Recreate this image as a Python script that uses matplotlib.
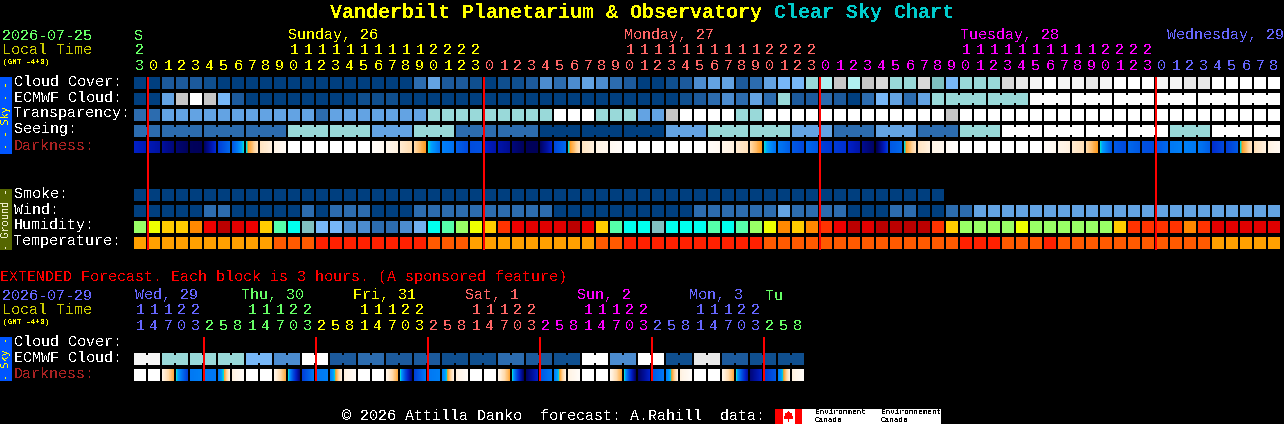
import matplotlib
matplotlib.use("Agg")
import matplotlib.pyplot as plt
import numpy as np
from matplotlib.colors import LinearSegmentedColormap
from matplotlib.patches import Rectangle, Polygon

plt.rcParams['text.antialiased'] = False
MONO = 'Liberation Mono'
SIDE = 'DejaVu Sans Mono'

W, H = 1284, 424
X0, STEP, CELL = 134, 14, 12

SKY = ['#003F7F', '#0F4F8F', '#1C5A9C', '#2C6CAF', '#4C8CCF', '#63A3E3', '#77B7F7', '#7FC0C0',
       '#99D9D9', '#B0F0F0', '#C6C6C6', '#D8D8D8', '#E8E8E8', '#F5F5F5', '#FFFFFF']

cloud_cover = [0, 0, 2, 2, 2, 1, 0, 0, 0, 0, 0, 0, 0, 0, 0, 0, 0, 0, 0, 0, 3,
               5, 2, 2, 1, 0, 1, 1, 2, 4, 3, 4, 5, 4, 3, 2, 0, 0, 1, 2, 4, 5, 5, 2, 3, 5, 6, 6, 8, 9, 10, 9,
               10, 11, 8, 8, 11, 7, 6, 8, 8, 8, 11, 12, 13, 14, 13, 13, 12, 13, 14, 14, 14, 13, 13, 12, 12,
               14, 14, 14, 14, 14]
ecmwf_cloud = [0, 0, 5, 10, 14, 10, 6, 2, 0, 0, 0, 0, 0, 0, 0, 0, 1, 1, 1, 0, 0,
               0, 0, 0, 0, 0, 0, 0, 0, 0, 0, 0, 0, 0, 0, 0, 0, 0, 0, 1, 2, 3, 4, 3, 5, 3, 8, 2, 2, 3, 2, 0,
               3, 6, 5, 3, 5, 8, 8, 8, 8, 8, 8, 8, 14, 14, 14, 14, 14, 14, 14, 14, 14, 14, 14, 14,
               14, 14, 14, 14, 14, 14]
transparency = [3, 3, 5, 5, 5, 5, 5, 5, 5, 5, 5, 5, 5, 3, 5, 5, 5, 5, 5, 5, 5,
                8, 8, 8, 8, 8, 8, 8, 8, 8, 14, 14, 14, 8, 8, 8, 5, 5, 10, 14, 14, 14, 14, 8, 8, 14, 14, 14, 14, 14, 14, 14,
                14, 14, 14, 14, 14, 14, 10, 14, 14, 14, 14, 14, 14, 14, 14, 14, 14, 14, 14, 14, 14, 14, 14, 14,
                14, 14, 14, 14, 14, 14]
seeing = [3, 3, 3, 3, 3, 3, 3, 3, 3, 3, 3, 8, 8, 8, 8, 8, 8, 5, 5, 5, 8,
          8, 8, 3, 3, 3, 3, 3, 3, 0, 0, 0, 0, 0, 0, 0, 0, 0, 5, 5, 5, 8, 8, 8, 8, 8, 8, 5, 5, 5, 3, 3,
          3, 5, 5, 5, 3, 3, 3, 8, 8, 8, 14, 14, 14, 14, 14, 14, 14, 14, 14, 14, 14, 14, 8, 8, 8,
          14, 14, 14, 14, 14]
smoke = [0] * 58
wind = [0, 0, 0, 0, 0, 3, 3, 0, 0, 0, 0, 0, 3, 0, 3, 3, 3, 0, 0, 0, 3,
        3, 3, 3, 3, 3, 3, 3, 3, 3, 0, 0, 0, 0, 0, 0, 0, 0, 0, 0, 3, 3, 3, 3, 3, 3, 5, 3, 3, 3, 3, 0,
        0, 0, 3, 3, 0, 0, 3, 3, 5, 5, 5, 5, 5, 5, 5, 5, 5, 5, 5, 5, 5, 5, 5, 5,
        5, 5, 5, 5, 5, 5]

HUM = {'g': '#99FF66', 'y': '#EEFF00', 'a': '#FFCC00', 'o': '#FF8800', 'f': '#FF3300', 'r': '#EE0000',
       'R': '#E00000', 'd': '#BB0000', 'm': '#55FFAA', 'c': '#00FFEE', 't': '#80C0C0', 'L': '#77B7F7',
       'M': '#4C8CCF', 'B': '#2C6CAF', 'S': '#70B0F0'}
humidity = list('gyaaordRramctLLMMBBMS' + 'cmgyafrRRRdramcctcccmcmgyoaofrd' + 'RddddfaggggyggggggaffffofRRRRR')

TEMP = ['#FFA000', '#FF5A00', '#FF2000']
temperature = [0] * 10 + [1] * 3 + [2] * 8 + [1] * 3 + [0] * 9 + [1] * 2 + [2] * 10 + [1] * 14 + \
              [2] * 3 + [1] * 3 + [2] * 1 + [1] * 11 + [0] * 5

# darkness: value at the start and at the end of each cell (0 = deep night, 1 = daylight)
dark_cmap = LinearSegmentedColormap.from_list('dark', [
    (0.00, '#000050'), (0.15, '#000C90'), (0.30, '#0020C8'), (0.45, '#0048DC'), (0.60, '#0078F4'),
    (0.70, '#00A0FF'), (0.745, '#00E0D8'), (0.76, '#FF9C20'), (0.85, '#FFD9A8'), (0.93, '#FFF4E6'), (1.00, '#FFFFFF')])
dark_start = [.30, .25, .18, .08, .03, .05, .42, .50, .74, .88, .93, 1, 1, 1, 1, 1, 1, .98, .94, .90, .85,
              .74, .62, .52, .46, .30, .22, .10, .02, .05, .45, .74, .88, .93, .96, 1, 1, 1, 1, 1, 1, .98, .94, .90, .85,
              .74, .60, .50, .55, .42, .40, .30,
              .15, .0, .50, .74, .88, .93, .97, 1, 1, 1, 1, 1, 1, .98, .94, .90, .85, .74, .50, .55, .48, .50, .60, .62, .60, .35, .42, .74, .87, .92]
dark_end = [.25, .20, .10, .03, .02, .35, .55, .74, .88, .92, .97, 1, 1, 1, 1, 1, 1, .96, .92, .86, .76,
            .58, .58, .46, .48, .22, .16, .03, .02, .30, .55, .88, .92, .95, .98, 1, 1, 1, 1, 1, 1, .96, .92, .87, .76,
            .58, .52, .45, .50, .38, .36, .22,
            .05, .40, .55, .88, .92, .95, .99, 1, 1, 1, 1, 1, 1, .96, .92, .87, .76, .50, .46, .50, .46, .55, .62, .60, .52, .45, .50, .88, .92, .96]

ext_ecmwf = [13, 8, 8, 8, 6, 4, 14, 2, 3, 2, 2, 1, 1, 3, 2, 1, 14, 4, 14, 1, 12, 2, 1, 1]
ext_dark_start = [1, 1, .93, .74, .60, .60, .60, .92, 1, 1, .94, .74, .42, .60, .62, .92, 1, 1, .94, .74, .42, .60, .62, .92,
                  1, 1, .94, .74, .05, .50, .62, .92, 1, 1, .94, .74, .05, .50, .62, .92, 1, 1, .94, .74, .10, .40, .62, .92]
ext_dark_end = [1, 1, .78, .42, .62, .60, .92, .98, 1, 1, .78, .10, .60, .62, .92, .98, 1, 1, .78, .10, .60, .62, .92, .98,
                1, 1, .78, .05, .30, .60, .92, .98, 1, 1, .78, .05, .30, .60, .92, .98, 1, 1, .78, .20, .30, .50, .92, .98]

# groups of cells that share one forecast block
seeing_groups = [2] + [3] * 26 + [2]
ecmwf_groups = [1] * 58 + [3] * 8
ext_groups = [2] * 24

GREEN, YEL, SAL, MAG, PER = '#66FF66', '#FFFF00', '#FF6666', '#FF00FF', '#6666FF'
hour_cols = [GREEN] + [YEL] * 24 + [SAL] * 24 + [MAG] * 24 + [PER] * 9
hours = [23] + list(range(24)) * 3 + list(range(9))
ext_hours = [11, 14, 17, 20, 23, 2, 5, 8] * 6
ext_cols = [PER] * 5 + [GREEN] * 8 + [YEL] * 8 + [SAL] * 8 + [MAG] * 8 + [PER] * 8 + [GREEN] * 3

fig = plt.figure(figsize=(W / 100, H / 100), dpi=100, facecolor='black')
ax = fig.add_axes([0, 0, 1, 1])
ax.set_xlim(0, W)
ax.set_ylim(H, 0)
ax.axis('off')


def txt(x, y, s, c='white', size=10.8, weight='normal', ha='left', family=MONO, **kw):
    ax.text(x, y, s, color=c, fontsize=size, family=family, weight=weight, ha=ha, va='center', **kw)


def rect(x, y, w, h, c, z=2):
    ax.add_patch(Rectangle((x, y), w, h, fc=c, ec='none', lw=0, zorder=z, antialiased=False))


def row(vals, y, palette, groups=None):
    for i, v in enumerate(vals):
        rect(X0 + i * STEP, y, CELL, CELL, palette[v])
    if groups:
        i = 0
        for g in groups:
            for k in range(g - 1):
                j = i + k
                rect(X0 + j * STEP + CELL, y + 2, STEP - CELL, CELL - 4, palette[vals[i]])
            i += g


def dark_row(starts, ends, y):
    for i, (a, b) in enumerate(zip(starts, ends)):
        grad = np.linspace(a, b, 12).reshape(1, -1)
        x = X0 + i * STEP
        ax.imshow(grad, extent=(x, x + CELL, y + CELL, y), cmap=dark_cmap, vmin=0, vmax=1,
                  aspect='auto', interpolation='nearest', zorder=2)


# Title
txt(330, 12.5, 'Vanderbilt Planetarium & Observatory', YEL, 14.4, 'bold')
txt(774, 12.5, 'Clear Sky Chart', '#00CCCC', 14.4, 'bold')

# Header
txt(2, 35.5, '2026-07-25', GREEN)
txt(2, 50.5, 'Local Time', '#CCCC00')
txt(3, 62, '(GMT -4+0)', YEL, 5.6)
txt(134, 35.5, 'S', GREEN)
txt(288, 35.5, 'Sunday, 26', YEL)
txt(624, 35.5, 'Monday, 27', SAL)
txt(960, 35.5, 'Tuesday, 28', MAG)
txt(1167, 35.5, 'Wednesday, 29', PER)
for i, (h, c) in enumerate(zip(hours, hour_cols)):
    xc = X0 + i * STEP + 6
    txt(xc, 65.5, str(h % 10), c, ha='center')
    if h >= 10:
        txt(xc, 50.5, str(h // 10), c, ha='center')

# Side bars
rect(0, 77, 12, 77, '#0055FF')
txt(6, 115, '- - Sky - -', YEL, 7.4, ha='center', rotation=90, family=SIDE)
rect(0, 189, 12, 61, '#556600')
txt(6, 219.5, '- Ground -', '#EEEECC', 7.4, ha='center', rotation=90, family=SIDE)
rect(0, 337, 12, 44, '#0055FF')
txt(6, 359, '- Sky -', YEL, 7.4, ha='center', rotation=90, family=SIDE)

# Row labels
labels = ['Cloud Cover:', 'ECMWF Cloud:', 'Transparency:', 'Seeing:']
for lab, y in zip(labels, [81.5, 97.5, 113.5, 129.5]):
    txt(14, y, lab)
txt(14, 145.5, 'Darkness:', '#AA2222')
for lab, y in zip(['Smoke:', 'Wind:', 'Humidity:', 'Temperature:'], [193.5, 209.5, 225.5, 241.5]):
    txt(14, y, lab)

# Main rows
row(cloud_cover, 77, SKY)
row(ecmwf_cloud, 93, SKY, ecmwf_groups)
row(transparency, 109, SKY)
row(seeing, 125, SKY, seeing_groups)
dark_row(dark_start, dark_end, 141)
row(smoke, 189, SKY)
row(wind, 205, SKY)
row(humidity, 221, HUM)
row(temperature, 237, TEMP)

for k in range(4):
    rect(X0 + STEP - 1 + k * 24 * STEP, 77, 2, 173, '#FF0000', z=5)

# Extended forecast
txt(0, 276.5, 'EXTENDED Forecast. Each block is 3 hours. (A sponsored feature)', '#FF0000')
txt(2, 295.5, '2026-07-29', PER)
txt(2, 310.5, 'Local Time', '#CCCC00')
txt(3, 322, '(GMT -4+0)', YEL, 5.6)
for lab, x, c in [('Wed, 29', 135, PER), ('Thu, 30', 241, GREEN), ('Fri, 31', 353, YEL),
                  ('Sat, 1', 465, SAL), ('Sun, 2', 577, MAG), ('Mon, 3', 689, PER), ('Tu', 765, GREEN)]:
    txt(x, 295.5, lab, c)
for i, (h, c) in enumerate(zip(ext_hours, ext_cols)):
    xc = X0 + i * STEP + 6
    txt(xc, 325.5, str(h % 10), c, ha='center')
    if h >= 10:
        txt(xc, 310.5, str(h // 10), c, ha='center')
txt(14, 341.5, 'Cloud Cover:')
txt(14, 357.5, 'ECMWF Cloud:')
txt(14, 373.5, 'Darkness:', '#AA2222')

ext_cells = [v for v in ext_ecmwf for _ in range(2)]
row(ext_cells, 353, SKY, ext_groups)
dark_row(ext_dark_start, ext_dark_end, 369)
for k in range(6):
    rect(203 + k * 112, 337, 2, 44, '#FF0000', z=5)

# Footer
txt(342, 416.5, '\u00a9 2026 Attilla Danko  forecast: A.Rahill  data:')
rect(775, 409, 166, 15, 'white')
rect(775, 409, 8, 15, '#FF0000', z=3)
rect(795, 409, 7, 15, '#FF0000', z=3)
leaf = [(788.5, 411), (790, 414), (792, 413.5), (791.5, 416), (793, 416), (792, 419), (789, 419), (789, 422),
        (788, 422), (788, 419), (785, 419), (784, 416), (785.5, 416), (785, 413.5), (787, 414)]
ax.add_patch(Polygon(leaf, closed=True, fc='#FF0000', ec='none', zorder=3, antialiased=False))
txt(815, 413, 'Environment', 'black', 5.6)
txt(815, 420.5, 'Canada', 'black', 5.6)
txt(881, 413, 'Environnement', 'black', 5.6)
txt(881, 420.5, 'Canada', 'black', 5.6)

ax.set_xlim(0, W)
ax.set_ylim(H, 0)
fig.savefig('out.png', dpi=100, facecolor='black')
